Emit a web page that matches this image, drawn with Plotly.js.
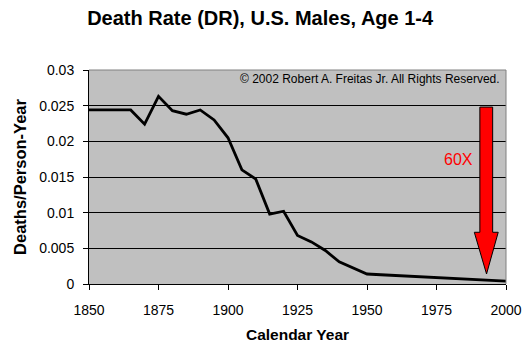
<!DOCTYPE html>
<html>
<head>
<meta charset="utf-8">
<script src="https://cdn.plot.ly/plotly-3.0.1.min.js"></script>
<style>html,body{margin:0;padding:0;background:#fff;}#chart{width:532px;height:354px;}</style>
</head>
<body>
<div id="chart"></div>
<script>
var years = [1850,1855,1860,1865,1870,1875,1880,1885,1890,1895,1900,1905,1910,1915,1920,1925,1930,1935,1940,1945,1950,1955,1960,1965,1970,1975,1980,1985,1990,1995,2000];
var deathRate = [0.0244,0.0244,0.0244,0.0244,0.0224,0.0263,0.0243,0.0238,0.0244,0.0230,0.0205,0.0160,0.0147,0.0098,0.0102,0.0068,0.0059,0.0047,0.0031,0.0022,0.0014,0.0013,0.0012,0.0010,0.0009,0.0008,0.0008,0.0007,0.0006,0.0005,0.0004];
var yTicks = [0,0.005,0.01,0.015,0.02,0.025,0.03];
var yTickLabels = ["0","0.005","0.01","0.015","0.02","0.025","0.03"];
var xTicks = [1850,1875,1900,1925,1950,1975,2000];

// arrow annotation (data coordinates)
var arrowShaftX = [1990.6,1995.2];
var arrowTopY = 0.0248;
var arrowHeadY = 0.00725;
var arrowHeadX = [1988.6,1997.2];
var arrowTip = [1993.0,0.0014];

var arrowPath = 'M'+arrowShaftX[0]+','+arrowTopY+
  ' L'+arrowShaftX[1]+','+arrowTopY+
  ' L'+arrowShaftX[1]+','+arrowHeadY+
  ' L'+arrowHeadX[1]+','+arrowHeadY+
  ' L'+arrowTip[0]+','+arrowTip[1]+
  ' L'+arrowHeadX[0]+','+arrowHeadY+
  ' L'+arrowShaftX[0]+','+arrowHeadY+' Z';

var font = 'Liberation Sans, Arial, sans-serif';

var trace = {
  x: years, y: deathRate, type: 'scatter', mode: 'lines',
  line: {color: '#000000', width: 2.8},
  hoverinfo: 'skip'
};

var layout = {
  width: 532, height: 354,
  margin: {l: 89, r: 26, t: 70, b: 70},
  paper_bgcolor: '#ffffff',
  plot_bgcolor: '#c0c0c0',
  showlegend: false,
  font: {family: font, color: '#000', size: 14},
  title: {text: '<b>Death Rate (DR), U.S. Males, Age 1-4</b>', font: {family: font, size: 20, color: '#000'}, x: 0.489, xanchor: 'center', y: 0.949, yanchor: 'middle'},
  xaxis: {
    range: [1850, 2000], tickvals: xTicks, ticks: 'outside', ticklen: 5, tickcolor: '#000', tickwidth: 1,
    ticklabelstandoff: 8,
    showline: true, linecolor: '#000', linewidth: 1, showgrid: false, zeroline: false,
    tickfont: {family: font, size: 14, color: '#000'},
    title: {text: '<b>Calendar Year</b>', font: {family: font, size: 15.5, color: '#000'}, standoff: 12}
  },
  yaxis: {
    range: [0, 0.03], tickvals: yTicks, ticktext: yTickLabels, ticks: 'outside', ticklen: 5, tickcolor: '#000', tickwidth: 1,
    ticklabelstandoff: 6,
    showline: true, linecolor: '#000', linewidth: 1, showgrid: true, gridcolor: '#000', gridwidth: 1, zeroline: false,
    tickfont: {family: font, size: 14, color: '#000'},
    title: {text: '<b>Deaths/Person-Year</b>', font: {family: font, size: 16.5, color: '#000'}, standoff: 8}
  },
  shapes: [
    {type: 'line', xref: 'paper', yref: 'paper', x0: 0, x1: 1, y0: 1, y1: 1, line: {color: '#808080', width: 1}},
    {type: 'line', xref: 'paper', yref: 'paper', x0: 1, x1: 1, y0: 0, y1: 1, line: {color: '#808080', width: 1}},
    {type: 'path', xref: 'x', yref: 'y', path: arrowPath, fillcolor: '#ff0000', line: {color: '#000', width: 1}}
  ],
  annotations: [
    {xref: 'paper', yref: 'paper', x: 0.99, y: 0.96, xanchor: 'right', yanchor: 'middle', showarrow: false,
     text: '© 2002 Robert A. Freitas Jr. All Rights Reserved.', font: {family: font, size: 12, color: '#000'}},
    {xref: 'paper', yref: 'paper', x: 0.926, y: 0.584, xanchor: 'right', yanchor: 'middle', showarrow: false,
     text: '60X', font: {family: font, size: 16, color: '#ff0000'}}
  ]
};

Plotly.newPlot('chart', [trace], layout, {displayModeBar: false, staticPlot: true});
</script>
</body>
</html>
